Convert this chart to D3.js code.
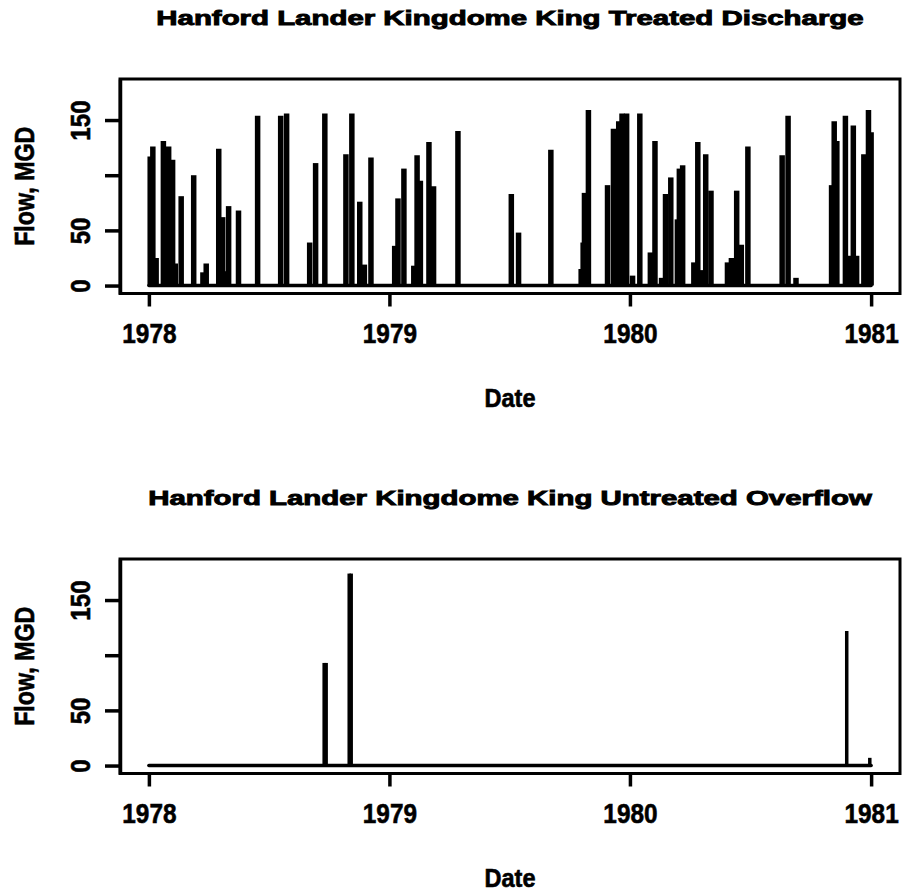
<!DOCTYPE html>
<html>
<head>
<meta charset="utf-8">
<script src="https://cdn.jsdelivr.net/npm/d3@7"></script>
<style>
  html, body { margin: 0; padding: 0; background: #fff; }
  svg { display: block; }
  text { font-family: "Liberation Sans", Arial, sans-serif; font-weight: bold; fill: #000; stroke: #000; stroke-width: 0.6px; }
  text.main { stroke-width: 0.9px; }
</style>
</head>
<body>
<svg id="chart" width="904" height="892"></svg>
<script>
// Period of record (daily flows, King County, Hanford / Lander / Kingdome outfalls)
const periodStart = "1978-01-01";
const periodEnd = "1981-01-01";

// Treated discharge events: date and flow (MGD)
const treatedDates = [
  "1978-01-03","1978-01-07","1978-01-12","1978-01-23","1978-01-31","1978-02-06","1978-02-10","1978-02-19",
  "1978-03-10","1978-03-24","1978-03-29","1978-04-17","1978-04-23","1978-04-26","1978-05-02","1978-05-17",
  "1978-06-15","1978-07-20","1978-07-29","1978-09-02","1978-09-11","1978-09-25","1978-10-27","1978-11-05",
  "1978-11-17","1978-11-24","1978-12-04",
  "1979-01-09","1979-01-14","1979-01-23","1979-02-07","1979-02-12","1979-02-17","1979-03-02","1979-03-09",
  "1979-04-15","1979-07-05","1979-07-16","1979-09-03","1979-10-19","1979-10-22","1979-10-24","1979-10-30",
  "1979-11-28","1979-12-07","1979-12-15","1979-12-20","1979-12-27",
  "1980-01-05","1980-01-16","1980-02-01","1980-02-08","1980-02-18","1980-02-24","1980-03-03","1980-03-13",
  "1980-03-16","1980-03-21","1980-04-07","1980-04-13","1980-04-17","1980-04-25","1980-05-03","1980-05-28",
  "1980-06-03","1980-06-11","1980-06-18","1980-06-28","1980-08-19","1980-08-28","1980-09-09","1980-11-02",
  "1980-11-06","1980-11-10","1980-11-23","1980-11-29","1980-12-05","1980-12-10","1980-12-21","1980-12-28",
  "1981-01-01"
];
const treatedFlow = [
  117,126,25,131,126,114,20,81,
  100,12,20,124,62,13,72,68,
  154,154,156,39,111,156,119,156,
  76,19,116,
  36,79,106,18,118,95,130,90,
  140,83,48,123,15,39,84,159,
  91,142,149,156,156,
  9,156,30,131,7,83,98,60,
  106,109,21,130,14,119,86,21,
  25,86,37,126,118,154,7,91,
  149,131,154,27,145,27,119,159,
  139
];

// Untreated overflow events: date and flow (MGD)
const overflowDates = ["1978-09-24","1978-09-27","1978-11-01","1978-11-04","1980-11-25","1980-12-30"];
const overflowFlow = [93, 93, 174, 174, 122, 7];

// Axis annotation
const panelTitles = [
  "Hanford Lander Kingdome King Treated Discharge",
  "Hanford Lander Kingdome King Untreated Overflow"
];
const yLimits = [0, 180];
const yTicks = [0, 50, 100, 150];
const yTickLabels = ["0", "50", "", "150"];
const xTickDates = ["1978-01-01","1979-01-01","1980-01-01","1981-01-01"];
const xTickLabels = ["1978", "1979", "1980", "1981"];
const xTitle = "Date";
const yTitle = "Flow, MGD";

const parse = d3.utcParse("%Y-%m-%d");
const svg = d3.select("#chart");

// Plot frame of each panel (panel-local coordinates)
const frame = { left: 120, right: 900, top: 79, bottom: 293.5 };
const panelOffsets = [0, 480];

function fitText(sel, factor) {
  sel.each(function () {
    const len = this.getComputedTextLength();
    if (len > 0) {
      d3.select(this).attr("textLength", len * factor).attr("lengthAdjust", "spacingAndGlyphs");
    }
  });
}

// R-style 4% padding around the data range
function padded(lo, hi) {
  const p = (hi - lo) * 0.04;
  return [lo - p, hi + p];
}

const t0 = parse(periodStart), t1 = parse(periodEnd);
const xPad = (t1 - t0) * 0.04;
const x = d3.scaleUtc()
  .domain([new Date(+t0 - xPad), new Date(+t1 + xPad)])
  .range([frame.left, frame.right]);
const y = d3.scaleLinear()
  .domain(padded(yLimits[0], yLimits[1]))
  .range([frame.bottom, frame.top]);

function drawPanel(offset, title, dates, flows, spikeWidth) {
  const g = svg.append("g").attr("transform", `translate(0,${offset})`);
  const pts = dates.map((d, i) => ({ t: parse(d), v: flows[i] }));

  // zero line over the period of record
  g.append("line")
    .attr("x1", x(t0)).attr("x2", x(t1))
    .attr("y1", y(0)).attr("y2", y(0))
    .attr("stroke", "#000").attr("stroke-width", 3.5).attr("stroke-linecap", "round");

  // flow spikes
  g.append("g").selectAll("line").data(pts).join("line")
    .attr("x1", d => x(d.t)).attr("x2", d => x(d.t))
    .attr("y1", y(0)).attr("y2", d => y(d.v))
    .attr("stroke", "#000").attr("stroke-width", spikeWidth)
    .attr("stroke-linecap", "butt");

  // frame
  g.append("rect")
    .attr("x", frame.left).attr("y", frame.top)
    .attr("width", frame.right - frame.left).attr("height", frame.bottom - frame.top)
    .attr("fill", "none").attr("stroke", "#000").attr("stroke-width", 3);

  // y axis
  const gy = g.append("g").attr("transform", `translate(${frame.left},0)`)
    .call(d3.axisLeft(y).tickValues(yTicks).tickFormat((d, i) => yTickLabels[i])
      .tickSize(15).tickSizeOuter(0));
  gy.select(".domain").attr("stroke-width", 3.5);
  gy.selectAll(".tick line").attr("stroke-width", 3.5);
  gy.selectAll(".tick text")
    .attr("transform", "rotate(-90)")
    .attr("x", 0).attr("y", -30).attr("dy", 0)
    .attr("text-anchor", "middle")
    .style("font-size", "28px")
    .call(fitText, 0.86);

  // x axis
  const gx = g.append("g").attr("transform", `translate(0,${frame.bottom})`)
    .call(d3.axisBottom(x).tickValues(xTickDates.map(parse)).tickFormat((d, i) => xTickLabels[i])
      .tickSize(13).tickSizeOuter(0));
  gx.select(".domain").remove();
  gx.selectAll(".tick line").attr("stroke-width", 3.5);
  gx.selectAll(".tick text")
    .attr("y", 49).attr("dy", 0)
    .style("font-size", "28px")
    .call(fitText, 0.87);

  // titles
  const cx = (frame.left + frame.right) / 2;
  g.append("text").attr("class", "main").attr("x", cx).attr("y", 25).attr("text-anchor", "middle")
    .style("font-size", "20px").text(title).call(fitText, 1.47);
  g.append("text").attr("x", cx).attr("y", 407).attr("text-anchor", "middle")
    .style("font-size", "25px").text(xTitle).call(fitText, 0.94);
  g.append("text")
    .attr("transform", `translate(34,${(frame.top + frame.bottom) / 2}) rotate(-90)`)
    .attr("text-anchor", "middle")
    .style("font-size", "28px").text(yTitle).call(fitText, 0.83);
}

drawPanel(panelOffsets[0], panelTitles[0], treatedDates, treatedFlow, 5.5);
drawPanel(panelOffsets[1], panelTitles[1], overflowDates, overflowFlow, 3.5);
</script>
</body>
</html>
